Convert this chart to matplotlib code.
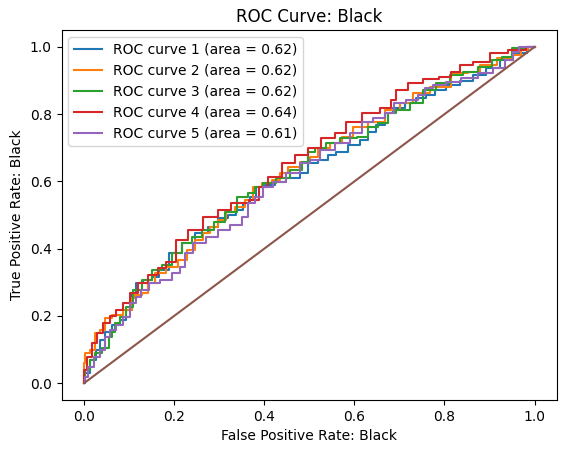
import matplotlib
matplotlib.use("Agg")
import matplotlib.pyplot as plt

# ROC points (fpr, tpr) per fold
fpr_1 = [0, 0.006, 0.02, 0.031, 0.04, 0.051, 0.073, 0.086, 0.102, 0.109, 0.12, 0.14, 0.162,
         0.169, 0.206, 0.228, 0.264, 0.286, 0.308, 0.33, 0.346, 0.361, 0.375, 0.39, 0.412,
         0.435, 0.463, 0.494, 0.501, 0.539, 0.545, 0.574, 0.596, 0.627, 0.634, 0.663, 0.672,
         0.70, 0.723, 0.752, 0.767, 0.789, 0.818, 0.849, 0.878, 0.907, 0.938, 0.967, 1.0]
tpr_1 = [0, 0.03, 0.068, 0.098, 0.128, 0.152, 0.173, 0.188, 0.217, 0.268, 0.298, 0.307, 0.316,
         0.336, 0.387, 0.417, 0.446, 0.464, 0.49, 0.50, 0.515, 0.536, 0.554, 0.583, 0.589,
         0.598, 0.61, 0.625, 0.655, 0.664, 0.679, 0.688, 0.708, 0.723, 0.747, 0.768, 0.804,
         0.818, 0.833, 0.848, 0.857, 0.872, 0.887, 0.90, 0.917, 0.937, 0.961, 0.982, 1.0]

fpr_2 = [0, 0.0, 0.006, 0.02, 0.029, 0.042, 0.053, 0.073, 0.102, 0.109, 0.117, 0.14, 0.146,
         0.169, 0.197, 0.22, 0.235, 0.257, 0.273, 0.286, 0.308, 0.324, 0.346, 0.368, 0.384,
         0.406, 0.428, 0.441, 0.463, 0.494, 0.508, 0.53, 0.561, 0.583, 0.612, 0.65, 0.685,
         0.716, 0.745, 0.789, 0.84, 0.863, 0.894, 0.938, 0.967, 0.973, 1.0]
tpr_2 = [0, 0.06, 0.089, 0.098, 0.149, 0.158, 0.193, 0.202, 0.217, 0.253, 0.262, 0.268, 0.298,
         0.327, 0.345, 0.366, 0.396, 0.426, 0.446, 0.464, 0.485, 0.509, 0.524, 0.545, 0.583,
         0.595, 0.604, 0.625, 0.643, 0.658, 0.673, 0.70, 0.714, 0.732, 0.762, 0.777, 0.812,
         0.833, 0.863, 0.881, 0.923, 0.926, 0.946, 0.967, 0.976, 0.991, 1.0]

fpr_3 = [0, 0.006, 0.02, 0.029, 0.051, 0.058, 0.064, 0.073, 0.086, 0.102, 0.117, 0.14, 0.162,
         0.184, 0.206, 0.228, 0.251, 0.273, 0.302, 0.324, 0.353, 0.375, 0.384, 0.412, 0.441,
         0.472, 0.494, 0.501, 0.523, 0.552, 0.583, 0.627, 0.634, 0.672, 0.678, 0.707, 0.738,
         0.767, 0.796, 0.827, 0.856, 0.894, 0.916, 0.938, 0.96, 1.0]
tpr_3 = [0, 0.039, 0.068, 0.089, 0.104, 0.137, 0.152, 0.179, 0.196, 0.226, 0.277, 0.307, 0.336,
         0.351, 0.387, 0.417, 0.435, 0.455, 0.479, 0.509, 0.554, 0.565, 0.583, 0.595, 0.61,
         0.634, 0.658, 0.688, 0.70, 0.714, 0.729, 0.732, 0.762, 0.774, 0.804, 0.812, 0.833,
         0.872, 0.893, 0.917, 0.926, 0.94, 0.961, 0.97, 0.997, 1.0]

fpr_4 = [0, 0.002, 0.013, 0.024, 0.035, 0.051, 0.064, 0.08, 0.095, 0.109, 0.131, 0.153, 0.175,
         0.19, 0.22, 0.242, 0.286, 0.308, 0.346, 0.386, 0.39, 0.428, 0.45, 0.486, 0.508,
         0.545, 0.568, 0.596, 0.638, 0.678, 0.683, 0.70, 0.738, 0.767, 0.811, 0.818, 0.849,
         0.878, 0.922, 0.96, 1.0]
tpr_4 = [0, 0.04, 0.077, 0.12, 0.15, 0.18, 0.2, 0.217, 0.238, 0.268, 0.298, 0.321, 0.342,
         0.36, 0.426, 0.455, 0.494, 0.515, 0.536, 0.545, 0.583, 0.613, 0.655, 0.679, 0.70,
         0.729, 0.744, 0.777, 0.804, 0.818, 0.842, 0.872, 0.893, 0.905, 0.911, 0.926, 0.946,
         0.955, 0.982, 0.991, 1.0]

fpr_5 = [0, 0.006, 0.013, 0.029, 0.04, 0.051, 0.064, 0.08, 0.095, 0.109, 0.12, 0.135, 0.153,
         0.184, 0.206, 0.22, 0.228, 0.257, 0.286, 0.308, 0.339, 0.361, 0.368, 0.39, 0.406,
         0.435, 0.463, 0.494, 0.508, 0.539, 0.574, 0.605, 0.627, 0.656, 0.678, 0.70, 0.729,
         0.752, 0.76, 0.789, 0.818, 0.856, 0.894, 0.922, 0.945, 0.96, 0.973, 1.0]
tpr_5 = [0, 0.018, 0.048, 0.077, 0.098, 0.137, 0.158, 0.173, 0.196, 0.238, 0.256, 0.277, 0.298,
         0.307, 0.327, 0.345, 0.387, 0.417, 0.435, 0.455, 0.47, 0.494, 0.536, 0.554, 0.583,
         0.598, 0.625, 0.655, 0.664, 0.693, 0.714, 0.744, 0.777, 0.789, 0.804, 0.833, 0.842,
         0.857, 0.878, 0.887, 0.896, 0.908, 0.923, 0.937, 0.961, 0.985, 1.0, 1.0]

areas = [0.62, 0.62, 0.62, 0.64, 0.61]
curves = [(fpr_1, tpr_1), (fpr_2, tpr_2), (fpr_3, tpr_3), (fpr_4, tpr_4), (fpr_5, tpr_5)]

fig = plt.figure(figsize=(5.67, 4.53), dpi=100)
ax = fig.add_axes([0.1085, 0.117, 0.874, 0.8165])

for i, (fpr, tpr) in enumerate(curves):
    ax.plot(fpr, tpr, drawstyle="steps-mid",
            label=f"ROC curve {i + 1} (area = {areas[i]:.2f})")

# chance line
ax.plot([0, 1], [0, 1])

ax.set_xlabel("False Positive Rate: Black")
ax.set_ylabel("True Positive Rate: Black")
ax.set_title("ROC Curve: Black")
ax.legend(loc="upper left")

fig.savefig("out.png", dpi=100)
